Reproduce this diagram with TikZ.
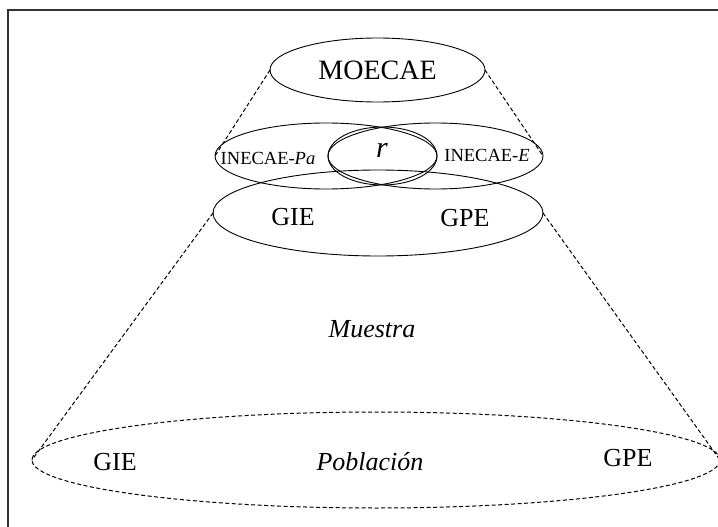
\documentclass[tikz,border=0pt]{standalone}
\usepackage{fontspec}
\setmainfont{Liberation Serif}
\usetikzlibrary{shapes.geometric}

\tikzset{
  conjunto/.style={draw, ellipse, line width=0.9pt, inner sep=0pt, outer sep=0pt},
  enlace/.style={draw, line width=1pt, dash pattern=on 4pt off 2.5pt},
  rotulo/.style={font=\fontsize{26}{30}\selectfont},
  rotulochico/.style={font=\fontsize{18.5}{22}\selectfont}
}

\begin{document}
\begin{tikzpicture}[x=1pt, y=-1pt]
  \useasboundingbox (0,0) rectangle (718,527);

  % Frame (only top and left edges fall inside the page)
  \draw[black!80, line width=1.3pt] (8,10) rectangle (740,545);

  % Sets of the sample
  \node[conjunto, minimum width=215pt, minimum height=64pt, font=\fontsize{28}{32}\selectfont]
    (moecae) at (377.5,70) {MOECAE};
  \node[conjunto, minimum width=222pt, minimum height=66pt] (inecaePa) at (326,156) {};
  \node[conjunto, minimum width=215pt, minimum height=66pt] (inecaeE) at (435.5,156) {};
  \node[conjunto, minimum width=109pt, minimum height=58pt] (rel) at (382.5,156) {};
  \node[conjunto, minimum width=330pt, minimum height=86pt] (grupos) at (378,213) {};

  % Population
  \node[conjunto, line width=1pt, dash pattern=on 4pt off 2.5pt, minimum width=688pt, minimum height=96pt]
    (poblacion) at (376,460) {};

  % Dashed connectors
  \draw[enlace] (moecae.west) -- (inecaePa.west);
  \draw[enlace] (moecae.east) -- (inecaeE.east);
  \draw[enlace] (grupos.west) -- (poblacion.west);
  \draw[enlace] (grupos.east) -- (poblacion.east);

  % Labels
  \node[rotulochico] (lPa) at (268,158) {INECAE-\textit{Pa}};
  \node[font=\fontsize{30}{34}\selectfont] (lr) at (382,150) {\textit{r}};
  \node[rotulochico] (lE) at (487,155) {INECAE-\textit{E}};
  \node[rotulo] (lgie) at (293,217) {GIE};
  \node[rotulo] (lgpe) at (465,218) {GPE};
  \node[rotulo] (lmuestra) at (372,329) {\textit{Muestra}};
  \node[rotulo] (lgieP) at (115,462) {GIE};
  \node[rotulo] (lpob) at (370,462) {\textit{Población}};
  \node[rotulo] (lgpeP) at (628,458) {GPE};

\end{tikzpicture}
\end{document}
